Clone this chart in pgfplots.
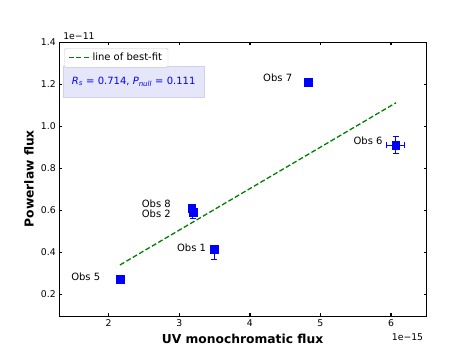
\documentclass[border=0pt]{standalone}
\usepackage{pgfplots}
\pgfplotsset{compat=1.18}
\usepackage{fontspec}
\setmainfont{DejaVu Sans}
\definecolor{mplgreen}{HTML}{008000}
\definecolor{boxfill}{HTML}{E6E6FA}
\definecolor{boxedge}{HTML}{CFCFF0}
\begin{document}
\begin{tikzpicture}
\useasboundingbox (-59.3pt,-40pt) rectangle (414.7pt,316pt);
\begin{axis}[
  at={(0pt,0pt)}, anchor=south west,
  scale only axis, width=367.4pt, height=273.7pt,
  xmin=1.30, xmax=6.506, ymin=0.097, ymax=1.4,
  xtick={2,3,4,5,6}, ytick={0.2,0.4,0.6,0.8,1.0,1.2,1.4},
  yticklabel style={/pgf/number format/.cd, fixed, fixed zerofill, precision=1},
  scaled ticks=false,
  /pgf/number format/assume math mode=true,
  tick label style={font=\fontsize{9.3}{10}\selectfont},
  tick align=inside, major tick length=2.5pt,
  every tick/.style={black, line width=1.5pt},
  axis line style={line width=0.8pt},
  legend style={at={(0.0128,0.979)}, anchor=north west, draw=black!22, rounded corners=1.5pt,
    fill=white, font=\fontsize{10}{11}\selectfont, inner xsep=4pt, inner ysep=3pt},
  legend cell align=left,
  legend image code/.code={\draw[#1] (0pt,0pt) -- (21pt,0pt);},
  clip=false,
]
\addplot[mplgreen, line width=1.3pt, dash pattern=on 5pt off 2.4pt] coordinates {(2.16,0.340) (6.07,1.112)};
\addlegendentry{line of best-fit}

\addplot[blue, only marks, mark=square*, mark size=3.8pt, forget plot,
  mark options={rounded corners=1pt},
  error bars/.cd, x dir=both, x explicit, y dir=both, y explicit,
  error bar style={line width=1pt, blue},
  error mark options={rotate=90, blue, mark size=3pt, line width=1pt}]
  table[x=x, y=y, x error=ex, y error plus=eyp, y error minus=eym] {
  x     y     ex    eyp    eym
  2.164 0.271 0.0   0.0    0.0
  3.176 0.610 0.0   0.0    0.0
  3.194 0.590 0.0   0.005  0.029
  3.496 0.416 0.0   0.01   0.052
  4.827 1.210 0.0   0.0    0.0
  6.065 0.911 0.13  0.041  0.041
  };

\node[anchor=east, font=\fontsize{10}{11}\selectfont] at (axis cs:1.93,0.286) {Obs 5};
\node[anchor=east, font=\fontsize{10}{11}\selectfont] at (axis cs:2.93,0.629) {Obs 8};
\node[anchor=east, font=\fontsize{10}{11}\selectfont] at (axis cs:2.93,0.586) {Obs 2};
\node[anchor=east, font=\fontsize{10}{11}\selectfont] at (axis cs:3.43,0.424) {Obs 1};
\node[anchor=east, font=\fontsize{10}{11}\selectfont] at (axis cs:4.65,1.229) {Obs 7};
\node[anchor=east, font=\fontsize{10}{11}\selectfont] at (axis cs:5.93,0.929) {Obs 6};

\node[anchor=north west, fill=boxfill, draw=boxedge, minimum width=141pt, minimum height=31pt,
  inner sep=0pt, text=blue, font=\fontsize{10}{11}\selectfont] at (rel axis cs:0.010,0.9134)
  {\textit{R}\textsubscript{\textit{s}} = 0.714, \textit{P}\textsubscript{\textit{null}} = 0.111};
\end{axis}
\node[anchor=west, font=\fontsize{9.3}{10}\selectfont] at (0.5pt,280pt) {1e−11};
\node[anchor=east, font=\fontsize{9.3}{10}\selectfont] at (367.4pt,-21pt) {1e−15};
\node[font=\fontsize{12.3}{14}\selectfont\bfseries] at (183.2pt,-23pt) {UV monochromatic flux};
\node[rotate=90, font=\fontsize{12.3}{14}\selectfont\bfseries] at (-30.3pt,137.3pt) {Powerlaw flux};
\end{tikzpicture}
\end{document}
